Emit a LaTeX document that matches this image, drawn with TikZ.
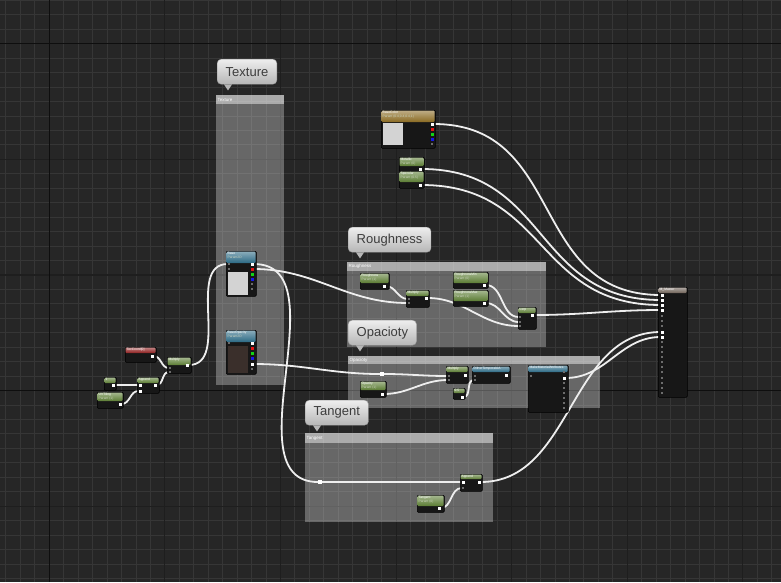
\documentclass[tikz,border=0pt]{standalone}
\usepackage{fontspec}
\setmainfont{Liberation Sans}
\usetikzlibrary{positioning, calc}
\definecolor{canvas}{HTML}{262626}
\definecolor{gridln}{HTML}{363636}
\definecolor{gridmid}{HTML}{1E1E1E}
\definecolor{gridmaj}{HTML}{0E0E0E}
\definecolor{exprbg}{HTML}{171717}
\definecolor{hdgreen}{HTML}{5B7C33}
\definecolor{hdblue}{HTML}{2B6984}
\definecolor{hdred}{HTML}{8E1E1E}
\definecolor{hdgold}{HTML}{8A6A22}
\definecolor{hdmat}{HTML}{6F6258}
\definecolor{bubtop}{HTML}{EEEEEE}
\definecolor{bubbot}{HTML}{B6B6B6}
\definecolor{bubedge}{HTML}{9A9A9A}
\definecolor{bubtxt}{HTML}{3C3C3C}
\definecolor{wirecol}{HTML}{EEEEEE}
\definecolor{subtxt}{HTML}{C9D2BC}
\definecolor{pinred}{HTML}{E41414}
\definecolor{pingreen}{HTML}{14D214}
\definecolor{pinblue}{HTML}{1818E6}
\definecolor{pindim}{HTML}{6C6C6C}
\definecolor{prevlight}{HTML}{D3D3D3}
\definecolor{prevdark}{HTML}{3A2F2B}

\pgfdeclarelayer{bg}
\pgfsetlayers{bg,main}

% expression node: name, x, y, width, height, header height, colour, title, subtitle
\newcommand{\matnode}[9]{%
  \node[exprbox, minimum width=#4pt, minimum height=#5pt] (#1) at (#2,#3) {};
  \shade[top color=#7!55!white, bottom color=#7, rounded corners=1pt]
    (#2+0.5,#3+0.5) rectangle (#2+#4-0.5,#3+#6);
  \node[exprtitle] (#1-t) at (#2+1.5,#3+1.2)
    {#8\if\relax\detokenize{#9}\relax\else\\\textcolor{subtxt}{#9}\fi};
}

\begin{document}
\begin{tikzpicture}[x=1pt, y=-1pt,
  wire/.style={draw=wirecol, line width=1.8pt},
  exprbox/.style={anchor=north west, fill=exprbg, draw=black, line width=0.5pt,
    inner sep=0pt, rounded corners=1pt},
  exprtitle/.style={anchor=north west, inner sep=0pt, align=left, text=white,
    font=\fontsize{3.3}{3.8}\selectfont},
  pinsq/.style={rectangle, inner sep=0pt, minimum size=3pt, fill=white},
  pinoff/.style={rectangle, inner sep=0pt, minimum size=2.2pt, fill=pindim},
  framehdr/.style={anchor=west, inner sep=0pt, text=white,
    font=\fontsize{4.5}{5}\selectfont},
  bubble/.style={anchor=north west, rounded corners=4pt, top color=bubtop,
    bottom color=bubbot, draw=bubedge, line width=0.4pt, minimum height=25pt,
    inner xsep=8.5pt, inner ysep=0pt, text=bubtxt, font=\fontsize{13}{15}\selectfont},
  reroute/.style={rectangle, inner sep=0pt, minimum size=3.5pt, fill=white}]

\useasboundingbox (0,0) rectangle (781,582);

\begin{pgfonlayer}{bg}
% Background grid
\fill[canvas] (0,0) rectangle (781,582);
\begin{scope}
\clip (0,0) rectangle (781,582);
\foreach \i in {-3,...,50} \draw[gridln, line width=1pt] ({49.3+14.45*\i},0) -- ++(0,582);
\foreach \i in {-3,...,37} \draw[gridln, line width=1pt] (0,{43.8+14.45*\i}) -- ++(781,0);
\foreach \i in {0,...,6} \draw[gridmid, line width=1.1pt] ({49.3+115.6*\i},0) -- ++(0,582);
\foreach \i in {0,...,4} \draw[gridmid, line width=1.1pt] (0,{43.8+115.6*\i}) -- ++(781,0);
\draw[gridmaj, line width=1.3pt] (49.3,0) -- ++(0,582);
\foreach \i in {0,1} \draw[gridmaj, line width=1.3pt] (0,{43.8+346.8*\i}) -- ++(781,0);
\end{scope}

% --- Comment frames ---
\fill[white, opacity=0.3] (216,95) rectangle (284,385);
\fill[white, opacity=0.45] (216,95) rectangle (284,104);
\fill[white, opacity=0.3] (347,262) rectangle (546,347);
\fill[white, opacity=0.45] (347,262) rectangle (546,271);
\fill[white, opacity=0.3] (348,356) rectangle (600,408);
\fill[white, opacity=0.45] (348,356) rectangle (600,364);
\fill[white, opacity=0.3] (305,433) rectangle (493,522);
\fill[white, opacity=0.45] (305,433) rectangle (493,443);
\end{pgfonlayer}

\node[framehdr] (texhdr) at (217.5,99.5) {Texture};
\node[framehdr] (rouhdr) at (348.5,266.5) {Roughness};
\node[framehdr] (opahdr) at (349.5,360) {Opacioty};
\node[framehdr] (tanhdr) at (306.5,438) {Tangent};

% Comment bubbles
\node[bubble] (texbub) at (217,59) {Texture};
\fill[bubbot] ([xshift=7pt]texbub.south west) -- ++(8,0) -- ++(-4,6) -- cycle;
\node[bubble] (roubub) at (348,227) {Roughness};
\fill[bubbot] ([xshift=8pt]roubub.south west) -- ++(8,0) -- ++(-4,6) -- cycle;
\node[bubble] (opabub) at (348,320) {Opacioty};
\fill[bubbot] ([xshift=8pt]opabub.south west) -- ++(8,0) -- ++(-4,6) -- cycle;
\node[bubble] (tanbub) at (305,400) {Tangent};
\fill[bubbot] ([xshift=8pt]tanbub.south west) -- ++(8,0) -- ++(-4,6) -- cycle;

% --- UV cluster ---
\matnode{texc}{125}{347}{31}{15}{6}{hdred}{TexCoord[0]}{}
\matnode{lmul}{167}{357}{24}{16}{8}{hdgreen}{Multiply}{}
\matnode{cone}{104}{377}{12}{13}{6}{hdgreen}{1}{}
\matnode{lapp}{137}{377}{22}{16}{6}{hdgreen}{Append}{}
\matnode{uvt}{97}{392}{26}{16}{9}{hdgreen}{UVTiling}{Param (1)}
\node[pinsq] (texcO) at (152,356) {};
\node[pinoff] (lmulA) at (170,368) {};
\node[pinoff] (lmulB) at (170,372) {};
\node[pinsq] (lmulO) at (187,365) {};
\node[pinsq] (coneO) at (113,385) {};
\node[pinsq] (lappA) at (140,385) {};
\node[pinsq] (lappB) at (140,391) {};
\node[pinsq] (lappO) at (155,385) {};
\node[pinsq] (uvtO) at (120,404) {};

% --- Texture samples ---
\matnode{base}{226}{251}{30}{45}{12}{hdblue}{Base}{Param2D}
\fill[prevlight] (227.5,272) rectangle (248,295);
\node[pinoff] (baseUV) at (229,264) {};
\node[pinoff] (baseIn) at (229,269) {};
\node[pinsq] (baseO) at (252,264) {};
\node[pinsq, fill=pinred] (baseR) at (252,269) {};
\node[pinsq, fill=pingreen] (baseG) at (252,274) {};
\node[pinsq, fill=pinblue] (baseB) at (252,279) {};
\node[pinoff] (baseA) at (252,284) {};
\node[pinoff] (baseW) at (252,289) {};

\matnode{bop}{226}{330}{30}{44}{12}{hdblue}{BaseOpacity}{Param2D}
\fill[prevdark] (227.5,346) rectangle (248,373);
\node[pinoff] (bopUV) at (229,343) {};
\node[pinsq] (bopO) at (252,343) {};
\node[pinsq, fill=pinred] (bopR) at (252,348) {};
\node[pinsq, fill=pingreen] (bopG) at (252,353) {};
\node[pinsq, fill=pinblue] (bopB) at (252,358) {};
\node[pinsq] (bopA) at (252,364) {};
\node[pinoff] (bopW) at (252,369) {};

% --- Parameters on top ---
\matnode{bcol}{381}{110}{54}{38}{12}{hdgold}{BaseColor}{Param (0.4,0.4,0.4,1)}
\fill[prevlight] (382.5,122.5) rectangle (403,145);
\node[pinsq] (bcolO) at (432,124) {};
\node[pinsq, fill=pinred] (bcolR) at (432,129) {};
\node[pinsq, fill=pingreen] (bcolG) at (432,134) {};
\node[pinsq, fill=pinblue] (bcolB) at (432,139) {};
\node[pinoff] (bcolA) at (432,144) {};
\matnode{metl}{399}{157}{25}{14}{9}{hdgreen}{Metallic}{Param (0)}
\node[pinsq] (metlO) at (420,169) {};
\matnode{spec}{399}{171}{25}{17}{11}{hdgreen}{Specular}{Param (0.5)}
\node[pinsq] (specO) at (420,185) {};

% --- Roughness ---
\matnode{rpar}{360}{273}{29}{16}{10}{hdgreen}{Roughness}{Param (1)}
\node[pinsq] (rparO) at (384,286) {};
\matnode{rmul}{406}{290}{23}{17}{6}{hdgreen}{Multiply}{}
\node[pinoff] (rmulA) at (409,299) {};
\node[pinoff] (rmulB) at (409,303) {};
\node[pinsq] (rmulO) at (426,298) {};
\matnode{rmin}{453}{272}{35}{16}{11}{hdgreen}{RoughnessMin}{Param (0)}
\node[pinsq] (rminO) at (484,285) {};
\matnode{rmax}{453}{290}{35}{16}{11}{hdgreen}{RoughnessMax}{Param (1)}
\node[pinsq] (rmaxO) at (484,303) {};
\matnode{lerp}{518}{307}{18}{22}{6}{hdgreen}{Lerp}{}
\node[pinoff] (lerpA) at (520,317) {};
\node[pinoff] (lerpB) at (520,322) {};
\node[pinoff] (lerpT) at (520,326) {};
\node[pinsq] (lerpO) at (532,315) {};

% --- Opacity ---
\node[reroute] (odot) at (382,374) {};
\matnode{opar}{360}{381}{26}{16}{9}{hdgreen}{Opacity}{Param (1)}
\node[pinsq] (oparO) at (382,394) {};
\matnode{omul}{446}{366}{22}{17}{6}{hdgreen}{Multiply}{}
\node[pinoff] (omulA) at (449,376) {};
\node[pinoff] (omulB) at (449,380) {};
\node[pinsq] (omulO) at (465,375) {};
\matnode{dith}{472}{366}{38}{17}{6}{hdblue}{DitherTemporalAA}{}
\node[pinoff] (dithA) at (475,376) {};
\node[pinoff] (dithB) at (475,380) {};
\node[pinsq] (dithO) at (506,375) {};
\matnode{ohalf}{453}{388}{12}{11}{5}{hdgreen}{0.5}{}
\node[pinsq] (ohalfO) at (462,397) {};
\matnode{blnd}{528}{365}{40}{47}{7}{hdblue}{MakeMaterialAttributes}{}
\node[pinoff] (blndIn) at (531,376) {};
\foreach \y [count=\k] in {372,378,383,388,393,398,403,408}
  \node[pinoff] (bl\k) at (564,\y) {};
\node[pinsq] (blndO) at (564,378) {};

% --- Tangent ---
\node[reroute] (tdot) at (320,482) {};
\matnode{tapp}{460}{474}{22}{17}{5}{hdgreen}{Append}{}
\node[pinsq] (tappA) at (463,482) {};
\node[pinoff] (tappB) at (463,488) {};
\node[pinsq] (tappO) at (479,482) {};
\matnode{tpar}{417}{495}{27}{17}{11}{hdgreen}{Tangent}{Param (0)}
\node[pinsq] (tparO) at (439,508) {};

% --- Material result ---
\matnode{mat}{658}{287}{29}{110}{6}{hdmat}{M\_Master}{}
\foreach \y [count=\k] in {295,300,305,310,316,321,326,332,337,342,347,352,357,362,367,372,378,383,388,393}
  \node[pinoff] (mp\k) at (662,\y) {};
\foreach \k in {1,2,3,4,8,9}
  \node[pinsq] (mpw\k) at (mp\k) {};

% --- Wires ---
\begin{pgfonlayer}{bg}
\draw[wire] (coneO.east) -- (lappA.west);
\draw[wire] (uvtO.east) to[out=0,in=180] (lappB.west);
\draw[wire] (texcO.east) to[out=0,in=180] (lmulA.west);
\draw[wire] (lappO.east) to[out=0,in=180] (lmulB.west);
\draw[wire] (lmulO.east) to[out=0,in=180] (baseUV.west);
\draw[wire] (baseO.east) to[out=0,in=180] (tdot.west);
\draw[wire] (baseR.east) to[out=0,in=180] (rmulB.west);
\draw[wire] (rparO.east) to[out=0,in=180] (rmulA.west);
\draw[wire] (rminO.east) to[out=0,in=180] (lerpA.west);
\draw[wire] (rmaxO.east) to[out=0,in=180] (lerpB.west);
\draw[wire] (rmulO.east) to[out=0,in=180] (lerpT.west);
\draw[wire] (bopA.east) to[out=0,in=180] (odot.west);
\draw[wire] (odot.east) to[out=0,in=180] (omulA.west);
\draw[wire] (oparO.east) to[out=0,in=180] (omulB.west);
\draw[wire] (ohalfO.east) to[out=0,in=180] (dithB.west);
\draw[wire] (tdot.east) -- (tappA.west);
\draw[wire] (tparO.east) to[out=0,in=180] (tappB.west);
\draw[wire] (bcolO.east) to[out=0,in=180, looseness=1.2] (mp1.west);
\draw[wire] (metlO.east) to[out=0,in=180, looseness=1.2] (mp2.west);
\draw[wire] (specO.east) to[out=0,in=180, looseness=1.2] (mp3.west);
\draw[wire] (lerpO.east) to[out=0,in=180] (mp4.west);
\draw[wire] (tappO.east) to[out=0,in=180] (mp8.west);
\draw[wire] (blndO.east) to[out=0,in=180] (mp9.west);
\end{pgfonlayer}

\end{tikzpicture}
\end{document}
